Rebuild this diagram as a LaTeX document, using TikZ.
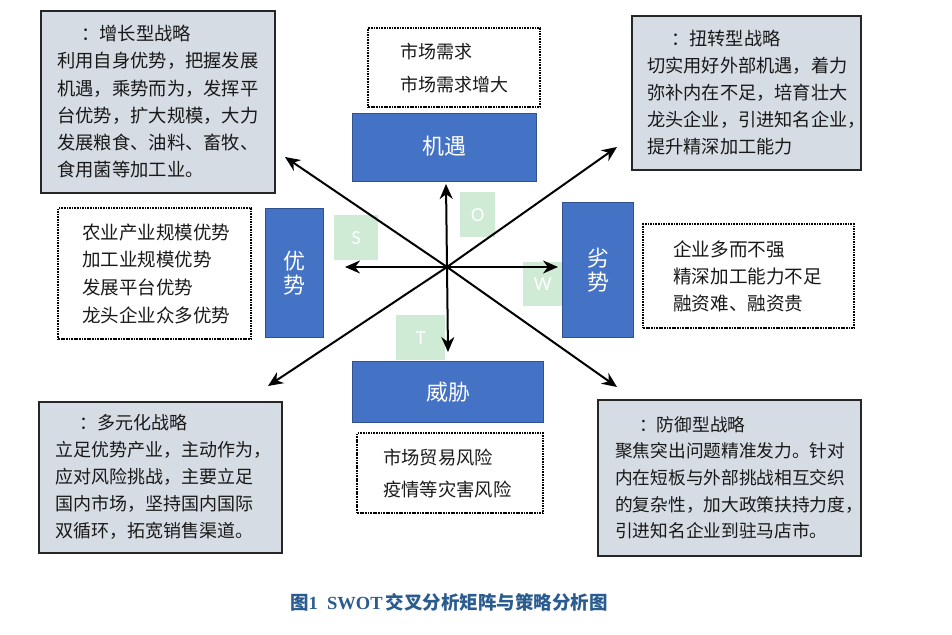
\documentclass[tikz,border=0pt]{standalone}
\usepackage{fontspec}
\setmainfont{Liberation Serif}
\newfontfamily\song{Noto Sans CJK SC}
\newfontfamily\hei{Noto Sans CJK SC}
\newfontfamily\latinsans{Carlito}
\usetikzlibrary{arrows.meta}
\definecolor{grayfill}{HTML}{D6DCE4}
\definecolor{bluefill}{HTML}{4472C4}
\definecolor{blueedge}{HTML}{2F528F}
\definecolor{greenfill}{HTML}{CFEAD5}
\definecolor{capblue}{HTML}{2B5C8F}
\tikzset{
 stratbox/.style={draw=black!85, line width=1.6pt, fill=grayfill, anchor=north west, inner sep=0},
 dotbox/.style={draw=black, line width=2.4pt, dash pattern=on 1.7pt off 0.9pt, anchor=north west, inner sep=0},
 bluebox/.style={draw=blueedge, line width=1pt, fill=bluefill, anchor=north west, inner sep=0, text=white, align=center, font=\hei\fontsize{22}{24}\selectfont},
 greensq/.style={fill=greenfill, anchor=north west, inner sep=0, text=white, font=\latinsans\fontsize{20}{22}\selectfont},
 stext/.style={anchor=west, align=left, inner sep=0, text=black!90, font=\song\fontsize{18.3}{27.3}\selectfont},
 arr/.style={-{Stealth[length=15pt,width=13pt]}, line width=2pt},
}
\begin{document}
\begin{tikzpicture}[x=1pt,y=-1pt]
\useasboundingbox (0,0) rectangle (952,634);
% green letter squares
\node[greensq, minimum width=44pt, minimum height=45pt] (sq-s) at (334,215) {S};
\node[greensq, minimum width=35pt, minimum height=45pt] (sq-o) at (460,192) {O};
\node[greensq, minimum width=39pt, minimum height=44pt] (sq-w) at (523,262) {W};
\node[greensq, minimum width=49pt, minimum height=45pt] (sq-t) at (396,315) {T};
% blue boxes
\node[bluebox, minimum width=184pt, minimum height=68pt] (jy) at (352,113) {\raisebox{5pt}{机遇}};
\node[bluebox, minimum width=58pt, minimum height=129pt] (ys) at (265,208) {优\\势};
\node[bluebox, minimum width=71pt, minimum height=135pt] (ls) at (562,202) {劣\\势};
\node[bluebox, minimum width=191pt, minimum height=61pt] (wx) at (352,361) {威胁};
% arrows
\coordinate (c) at (447,267);
\coordinate (pu) at (446,184);
\coordinate (pd) at (448,352);
\coordinate (pl) at (345,267);
\coordinate (pr) at (558,267);
\coordinate (pul) at (285,157);
\coordinate (pur) at (617,147);
\coordinate (pll) at (268,386);
\coordinate (plr) at (617,387);
\foreach \p in {pu,pd,pl,pr,pul,pur,pll,plr} \draw[arr] (c) -- (\p);
% strategy boxes
\node[stratbox, minimum width=234pt, minimum height=182pt] (so) at (40,10) {};
\node[stext] (so-t) at ([xshift=17pt]so.west) {\hspace*{24pt}：增长型战略\\利用自身优势，把握发展\\机遇，乘势而为，发挥平\\台优势，扩大规模，大力\\发展粮食、油料、畜牧、\\食用菌等加工业。};
\node[stratbox, minimum width=229pt, minimum height=154pt] (wo) at (631,15) {};
\node[stext, font=\song\fontsize{18.2}{27}\selectfont] (wo-t) at ([xshift=16pt]wo.west) {\hspace*{24pt}：扭转型战略\\切实用好外部机遇，着力\\弥补内在不足，培育壮大\\龙头企业，引进知名企业，\\提升精深加工能力};
\node[stratbox, minimum width=243pt, minimum height=151pt] (st) at (38,401) {};
\node[stext, font=\song\fontsize{18}{27}\selectfont] (st-t) at ([xshift=17pt]st.west) {\hspace*{24pt}：多元化战略\\立足优势产业，主动作为，\\应对风险挑战，主要立足\\国内市场，坚持国内国际\\双循环，拓宽销售渠道。};
\node[stratbox, minimum width=263pt, minimum height=156pt] (wt) at (597,399) {};
\node[stext, font=\song\fontsize{17.7}{26.7}\selectfont] (wt-t) at ([xshift=18pt]wt.west) {\hspace*{24pt}：防御型战略\\聚焦突出问题精准发力。针对\\内在短板与外部挑战相互交织\\的复杂性，加大政策扶持力度，\\引进知名企业到驻马店市。};
% dotted boxes
\node[dotbox, minimum width=172pt, minimum height=79pt] (od) at (367,27) {};
\node[stext, font=\song\fontsize{18}{33}\selectfont] (od-t) at ([xshift=33pt]od.west) {市场需求\\市场需求增大};
\node[dotbox, minimum width=193pt, minimum height=131pt] (sd) at (57,207) {};
\node[stext, font=\song\fontsize{18.5}{27.7}\selectfont] (sd-t) at ([xshift=25pt]sd.west) {农业产业规模优势\\加工业规模优势\\发展平台优势\\龙头企业众多优势};
\node[dotbox, minimum width=211pt, minimum height=104pt] (wd) at (642,223) {};
\node[stext, font=\song\fontsize{18.6}{27}\selectfont] (wd-t) at ([xshift=31pt]wd.west) {企业多而不强\\精深加工能力不足\\融资难、融资贵};
\node[dotbox, minimum width=186pt, minimum height=80pt] (td) at (356,432) {};
\node[stext, font=\song\fontsize{18.3}{32}\selectfont] (td-t) at ([xshift=27pt]td.west) {市场贸易风险\\疫情等灾害风险};
% caption
\node[text=capblue, inner sep=0] (cap) at (449,602) {\hei\bfseries\fontsize{18.5}{21}\selectfont 图{\rmfamily\bfseries 1\ \ SWOT}\,交叉分析矩阵与策略分析图};
\end{tikzpicture}
\end{document}
